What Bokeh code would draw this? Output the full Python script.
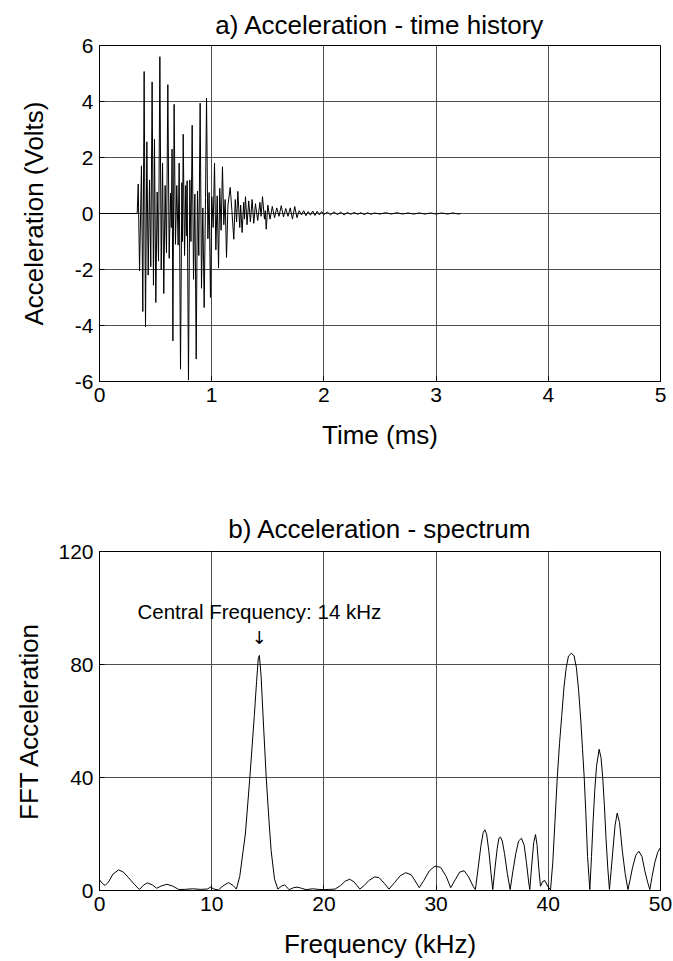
from bokeh.plotting import figure
from bokeh.layouts import column
from bokeh.models import Range1d, FixedTicker, Label
from bokeh.embed import file_html
from bokeh.resources import INLINE

# ---------------- data: a) acceleration time history ----------------
time_ms = [0.0, 0.336, 0.345, 0.357, 0.374, 0.386, 0.398, 0.410, 0.422, 0.434,
           0.446, 0.457, 0.469, 0.481, 0.490, 0.502, 0.514, 0.526, 0.538, 0.550,
           0.562, 0.573, 0.585, 0.597, 0.609, 0.621, 0.633, 0.640, 0.647, 0.654,
           0.665, 0.677, 0.689, 0.701, 0.710, 0.722, 0.734, 0.740, 0.746, 0.758,
           0.769, 0.775, 0.781, 0.793, 0.805, 0.815, 0.826, 0.838, 0.850, 0.862,
           0.873, 0.885, 0.897, 0.909, 0.921, 0.933, 0.945, 0.954, 0.966, 0.977,
           0.989, 1.001, 1.013, 1.025, 1.037, 1.049, 1.061, 1.072, 1.084, 1.096,
           1.108, 1.120, 1.132, 1.145, 1.165, 1.180, 1.197, 1.210, 1.222, 1.233,
           1.250, 1.258, 1.271, 1.285, 1.292, 1.301, 1.315, 1.330, 1.345, 1.360,
           1.375, 1.390, 1.410, 1.430, 1.440, 1.453, 1.470, 1.478, 1.486, 1.500,
           1.520, 1.540, 1.560, 1.580, 1.600, 1.620, 1.640, 1.660, 1.680, 1.700,
           1.720, 1.740, 1.760, 1.780, 1.800, 1.820, 1.840, 1.860, 1.880, 1.900,
           1.920, 1.940, 1.960, 1.980, 2.000, 2.030, 2.060, 2.090, 2.120, 2.150,
           2.180, 2.210, 2.240, 2.270, 2.300, 2.330, 2.360, 2.390, 2.420, 2.450,
           2.500, 2.550, 2.600, 2.650, 2.700, 2.750, 2.800, 2.850, 2.900, 2.950,
           3.000, 3.050, 3.100, 3.150, 3.200, 3.220]
accel_volts = [0.0, 0.0, 1.05, -2.05, 1.7, -3.5, 5.07, -4.05, 2.56, -2.2,
               1.2, -1.9, 4.7, -2.56, 2.65, -3.18, 0.77, -1.7, 5.6, -2.0,
               1.8, -2.86, 1.0, -1.4, 4.6, -1.6, 0.73, -0.5, 2.3, -4.55,
               3.9, -1.1, 1.0, -1.13, 1.8, -5.56, 1.1, -1.0, 2.83, -1.5,
               1.0, -0.8, 1.17, -5.95, 1.2, -1.0, 3.15, -2.35, 0.69, -5.2,
               0.8, -1.5, 3.94, -2.67, 0.2, -3.36, 0.57, 4.12, -0.9, 0.75,
               -3.0, 0.6, -0.5, 1.8, -1.3, 0.63, -1.95, 0.9, -0.6, 1.67,
               -0.4, 0.5, -1.57, 0.3, 0.93, 0.1, -0.92, 0.5, -0.3, 0.79,
               -0.5, 0.3, -0.68, 0.4, -0.2, 0.6, -0.4, 0.45, -0.3, 0.5,
               -0.35, 0.35, -0.25, 0.4, -0.1, 0.6, -0.2, 0.1, -0.56, 0.3,
               -0.2, 0.25, -0.15, 0.2, -0.1, 0.28, -0.12, 0.18, -0.1, 0.2,
               -0.2, 0.25, -0.15, 0.1, -0.05, 0.1, -0.08, 0.07, -0.06, 0.09,
               -0.07, 0.08, -0.05, 0.07, -0.04, 0.05, -0.05, 0.06, -0.04, 0.05,
               -0.05, 0.04, -0.03, 0.04, -0.03, 0.03, -0.04, 0.03, -0.03, 0.02,
               -0.02, 0.03, -0.02, 0.03, -0.02, 0.02, -0.02, 0.02, -0.02, 0.02,
               -0.02, 0.02, -0.02, 0.02, -0.02, 0.0]

time_ticks = [0, 1, 2, 3, 4, 5]
volt_ticks = [-6, -4, -2, 0, 2, 4, 6]

# ---------------- data: b) acceleration spectrum ----------------
freq_khz = [0.0, 0.25, 0.5, 0.8, 1.2, 1.7, 2.1, 2.6, 3.1, 3.56,
            3.9, 4.25, 4.7, 5.1, 5.5, 6.0, 6.5, 7.07, 7.6, 8.3,
            9.0, 9.6, 9.9, 10.2, 10.6, 11.0, 11.5, 11.9, 12.2, 12.5,
            12.8, 13.0, 13.4, 13.8, 14.0, 14.15, 14.25, 14.4, 14.6, 14.86,
            15.1, 15.3, 15.6, 15.9, 16.2, 16.5, 16.9, 17.3, 17.6, 18.0,
            18.4, 19.0, 19.5, 20.0, 20.5, 21.0, 21.5, 21.9, 22.3, 22.7,
            23.2, 23.6, 24.0, 24.5, 24.9, 25.4, 25.8, 26.3, 26.8, 27.3,
            27.8, 28.2, 28.5, 28.9, 29.4, 29.9, 30.4, 30.9, 31.3, 31.7,
            32.1, 32.5, 32.9, 33.3, 33.5, 33.75, 34.0, 34.2, 34.34, 34.5,
            34.7, 34.9, 35.05, 35.25, 35.45, 35.6, 35.74, 35.9, 36.1, 36.35,
            36.6, 36.85, 37.1, 37.35, 37.61, 37.85, 38.05, 38.25, 38.35, 38.5,
            38.7, 38.86, 39.0, 39.15, 39.3, 39.5, 39.7, 39.95, 40.2, 40.4,
            40.6, 40.8, 41.0, 41.2, 41.4, 41.6, 41.8, 42.07, 42.3, 42.5,
            42.7, 42.9, 43.05, 43.2, 43.35, 43.5, 43.7, 43.85, 44.0, 44.15,
            44.3, 44.53, 44.7, 44.85, 45.0, 45.15, 45.3, 45.45, 45.6, 45.75,
            45.95, 46.14, 46.35, 46.6, 46.85, 47.1, 47.3, 47.5, 47.8, 48.07,
            48.35, 48.6, 48.85, 49.05, 49.25, 49.5, 49.75, 50.0]
fft_accel = [3.8, 2.5, 1.8, 3.0, 5.8, 7.3, 6.6, 4.5, 2.2, 0.35,
             1.8, 2.7, 2.0, 0.8, 1.6, 2.2, 1.6, 0.35, 0.4, 0.6,
             0.4, 0.5, 1.2, 0.5, 0.2, 1.6, 2.8, 1.8, 0.5, 5.0,
             14.0, 20.0, 40.0, 62.0, 74.0, 82.0, 83.2, 76.0, 60.0, 40.0,
             25.0, 14.0, 4.0, 0.5, 1.5, 2.0, 0.3, 1.0, 1.2, 0.8,
             0.3, 0.6, 0.4, 0.3, 0.4, 0.5, 1.8, 3.3, 4.0, 3.0,
             0.5, 1.8, 3.5, 4.8, 4.6, 2.5, 0.5, 2.8, 5.2, 6.3,
             5.5, 3.0, 1.0, 3.5, 7.0, 8.6, 8.2, 5.0, 1.0, 3.8,
             6.5, 7.0, 4.8, 1.5, 0.3, 8.0, 16.0, 20.5, 21.5, 20.0,
             14.0, 6.0, 0.3, 8.0, 15.0, 18.5, 18.9, 17.5, 13.0, 6.0,
             0.3, 7.0, 13.0, 17.5, 18.5, 16.0, 10.0, 3.0, 0.3, 8.0,
             17.0, 19.8, 16.0, 8.0, 1.5, 3.2, 3.5, 1.5, 0.2, 10.0,
             25.0, 40.0, 52.0, 62.0, 72.0, 79.0, 83.0, 84.0, 83.0, 79.0,
             71.0, 60.0, 50.0, 40.0, 27.0, 12.0, 0.3, 12.0, 25.0, 36.0,
             44.0, 50.0, 47.0, 40.0, 30.0, 18.0, 8.0, 0.3, 7.0, 14.0,
             23.0, 27.4, 24.0, 14.0, 6.0, 0.3, 4.0, 8.0, 12.5, 13.9,
             12.0, 7.0, 3.0, 0.3, 5.0, 10.0, 13.5, 15.3]

freq_ticks = [0, 10, 20, 30, 40, 50]
fft_ticks = [0, 40, 80, 120]
annotation_text = "Central Frequency: 14 kHz"

FONT = "Liberation Sans"
GRID = "#4d4d4d"


def style(p, xticks, yticks, xlabel, ylabel, ylabel_standoff, title_standoff):
    p.title.text_font = FONT
    p.title.text_font_size = "26px"
    p.title.text_font_style = "normal"
    p.title.align = "center"
    p.title.text_color = "black"
    p.title.standoff = title_standoff
    p.outline_line_color = "black"
    p.outline_line_width = 1
    p.background_fill_color = "white"
    p.border_fill_color = "white"
    p.xaxis.ticker = FixedTicker(ticks=xticks)
    p.yaxis.ticker = FixedTicker(ticks=yticks)
    p.xaxis.major_label_overrides = {t: str(t) for t in xticks}
    p.yaxis.major_label_overrides = {t: str(t) for t in yticks}
    p.xaxis.axis_label = xlabel
    p.yaxis.axis_label = ylabel
    for ax in (p.xaxis[0], p.yaxis[0]):
        ax.axis_label_text_font = FONT
        ax.axis_label_text_font_size = "26px"
        ax.axis_label_text_font_style = "normal"
        ax.axis_label_text_color = "black"
        ax.major_label_text_font = FONT
        ax.major_label_text_font_size = "21px"
        ax.major_label_text_color = "black"
        ax.major_label_standoff = 6
        ax.major_tick_in = 5
        ax.major_tick_out = 0
        ax.major_tick_line_color = "black"
        ax.minor_tick_line_color = None
        ax.axis_line_color = "black"
    p.xaxis.axis_label_standoff = 15
    p.yaxis.axis_label_standoff = ylabel_standoff
    p.xgrid.grid_line_color = GRID
    p.ygrid.grid_line_color = GRID
    p.xgrid.grid_line_width = 1
    p.ygrid.grid_line_width = 1


# ---------------- figure a ----------------
p1 = figure(width=673, height=480, output_backend="svg", toolbar_location=None,
            title="a) Acceleration - time history",
            x_range=Range1d(0, 5), y_range=Range1d(-6, 6),
            min_border_left=99, min_border_right=13,
            min_border_top=45, min_border_bottom=99)
style(p1, time_ticks, volt_ticks, "Time (ms)", "Acceleration (Volts)", 23, 12)
p1.line(time_ms, accel_volts, line_color="black", line_width=1)

# ---------------- figure b ----------------
p2 = figure(width=673, height=481, output_backend="svg", toolbar_location=None,
            title="b) Acceleration - spectrum",
            x_range=Range1d(0, 50), y_range=Range1d(0, 120),
            min_border_left=99, min_border_right=13,
            min_border_top=71, min_border_bottom=71)
style(p2, freq_ticks, fft_ticks, "Frequency (kHz)", "FFT Acceleration", 11, 15)
p2.line(freq_khz, fft_accel, line_color="black", line_width=1)

# annotation at the central (first) peak, located from the data
low_band = [(a, f) for f, a in zip(freq_khz, fft_accel) if f < 20]
peak_amp, peak_freq = max(low_band)
p2.add_layout(Label(x=peak_freq, y=peak_amp + 15.5, text=annotation_text,
                    text_align="center", text_baseline="middle",
                    text_font=FONT, text_font_size="20.5px", text_color="black"))
p2.add_layout(Label(x=peak_freq, y=peak_amp + 6.5, text="\u2193",
                    text_align="center", text_baseline="middle",
                    text_font="DejaVu Sans", text_font_size="18px", text_color="black"))

layout = column(p1, p2, spacing=0)
open("out.html", "w").write(file_html(layout, INLINE))
